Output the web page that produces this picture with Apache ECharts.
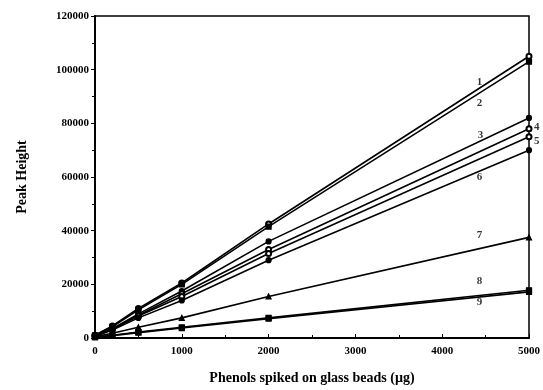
<!DOCTYPE html>
<html>
<head>
<meta charset="utf-8">
<script src="https://cdn.jsdelivr.net/npm/echarts@6/dist/echarts.min.js"></script>
<style>
  html, body { margin: 0; padding: 0; background: #fff; }
  #chart { width: 543px; height: 390px; }
</style>
</head>
<body>
<div id="chart"></div>
<script>
// amount spiked (ug)
const spiked = [0, 200, 500, 1000, 2000, 5000];

// peak heights, one array per phenol
const phenol1 = [1000, 4500, 11000, 20500, 42500, 105000];
const phenol2 = [1000, 4200, 10500, 20000, 41500, 103000];
const phenol3 = [800, 3500, 9000, 17500, 36000, 82000];
const phenol4 = [800, 3300, 8500, 16500, 33000, 78000];
const phenol5 = [700, 3200, 8200, 15500, 31500, 75000];
const phenol6 = [700, 3000, 7500, 14000, 29000, 70000];
const phenol7 = [500, 1800, 4000, 7500, 15500, 37500];
const phenol8 = [300, 1000, 2200, 4000, 7500, 17800];
const phenol9 = [300, 900, 2000, 3700, 7200, 17200];

const allPhenols = [phenol1, phenol2, phenol3, phenol4, phenol5, phenol6, phenol7, phenol8, phenol9];
const symbols = ['emptyCircle', 'rect', 'circle', 'emptyCircle', 'emptyCircle', 'circle', 'triangle', 'rect', 'rect'];

// line number labels near the right end
const labelText = ['1', '2', '3', '4', '5', '6', '7', '8', '9'];
const labelX = [4430, 4430, 4440, 5090, 5090, 4430, 4430, 4430, 4430];
const labelY = [95500, 87500, 75500, 78500, 73500, 60000, 38500, 21000, 13500];

const chart = echarts.init(document.getElementById('chart'));

const series = allPhenols.map((vals, i) => ({
  name: 'phenol ' + (i + 1),
  type: 'line',
  data: spiked.map((x, j) => [x, vals[j]]),
  symbol: symbols[i],
  symbolSize: 5,
  lineStyle: { color: '#000', width: 1.6 },
  itemStyle: { color: '#000', borderColor: '#000', borderWidth: 1.2 },
  z: 3
}));

series.push({
  type: 'scatter',
  symbolSize: 0,
  clip: false,
  data: labelX.map((x, i) => [x, labelY[i], labelText[i]]),
  label: {
    show: true,
    position: 'inside',
    formatter: p => p.data[2],
    color: '#000',
    fontFamily: 'Liberation Serif',
    fontWeight: 'bold',
    fontSize: 11
  },
  silent: true,
  z: 4
});

chart.setOption({
  animation: false,
  grid: {
    left: 95, right: 13, top: 16, bottom: 52,
    show: true, borderColor: '#000', borderWidth: 1.5
  },
  xAxis: {
    type: 'value',
    min: 0, max: 5000, interval: 1000,
    name: 'Phenols spiked on glass beads (\u00b5g)',
    nameLocation: 'middle',
    nameGap: 33,
    nameTextStyle: { fontFamily: 'Liberation Serif', fontWeight: 'bold', fontSize: 14, color: '#000' },
    axisLine: { lineStyle: { color: '#000', width: 2 } },
    axisTick: { inside: true, length: 4, lineStyle: { color: '#000' } },
    minorTick: { show: true, splitNumber: 2, length: 3, lineStyle: { color: '#000' } },
    axisLabel: { formatter: v => String(v), fontFamily: 'Liberation Serif', fontWeight: 'bold', fontSize: 11, color: '#000', margin: 8 },
    splitLine: { show: false }
  },
  yAxis: {
    type: 'value',
    min: 0, max: 120000, interval: 20000,
    name: 'Peak Height',
    nameLocation: 'middle',
    nameGap: 66,
    nameTextStyle: { fontFamily: 'Liberation Serif', fontWeight: 'bold', fontSize: 14, color: '#000' },
    axisLine: { show: true, lineStyle: { color: '#000', width: 2 } },
    axisTick: { show: true, length: 4, lineStyle: { color: '#000' } },
    minorTick: { show: true, splitNumber: 2, length: 3, lineStyle: { color: '#000' } },
    axisLabel: { formatter: v => String(v), fontFamily: 'Liberation Serif', fontWeight: 'bold', fontSize: 11, color: '#000', margin: 6 },
    splitLine: { show: false }
  },
  series: series
});
</script>
</body>
</html>
